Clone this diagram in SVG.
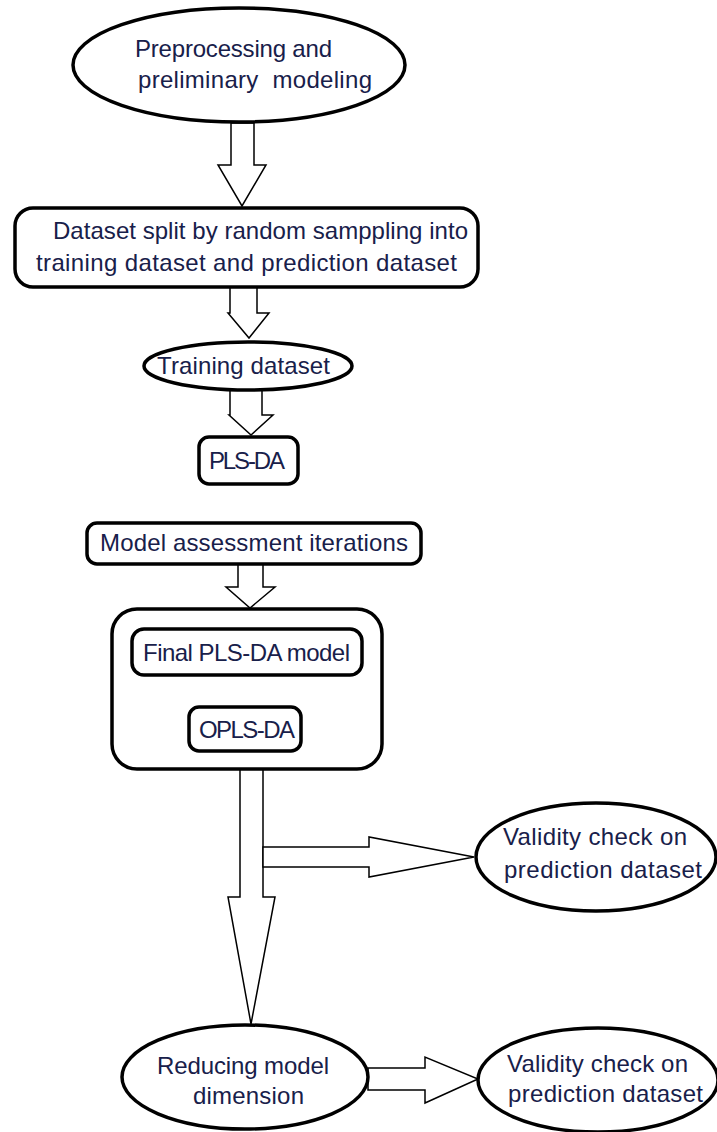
<svg xmlns="http://www.w3.org/2000/svg" width="717" height="1132" viewBox="0 0 717 1132">
<style>
.n{fill:#fff;stroke:#000;stroke-width:3.5}
.a{fill:#fff;stroke:#000;stroke-width:1.5;stroke-linejoin:miter}
.t{font-family:"Liberation Sans",Arial,sans-serif;font-size:24px;fill:#18204a}
</style>
<rect width="717" height="1132" fill="#fff"/>
<g id="connectors">
<polygon class="a" points="231,123 231,165 218,165 242,206 266,165 254,165 254,123"/>
<polygon class="a" points="230,287 230,313 228,313 249,338 269,313 257,313 257,287"/>
<polygon class="a" points="230,390 230,415 229,415 251,435 273,415 262,415 262,390"/>
<polygon class="a" points="238,564 238,587 226,587 250,608 275,587 263,587 263,564"/>
<polygon class="a" points="240,769 240,897 228,897 251,1024 275,897 263,897 263,769"/>
<polygon class="a" points="263,847 369,847 369,837 474,857 369,877 369,867 263,867"/>
<polygon class="a" points="368,1068 425,1068 425,1057 478,1079 425,1103 425,1090 368,1090"/>
</g>
<g id="preprocessing">
<ellipse class="n" cx="239" cy="65" rx="166" ry="57"/>
<text class="t" x="135" y="57" textLength="197">Preprocessing and</text>
<text class="t" x="138" y="88" textLength="234" xml:space="preserve">preliminary  modeling</text>
</g>
<g id="split">
<rect class="n" x="15" y="208" width="463" height="79" rx="18"/>
<text class="t" x="53" y="239" textLength="415">Dataset split by random samppling into</text>
<text class="t" x="36" y="271" textLength="421">training dataset and prediction dataset</text>
</g>
<g id="training">
<ellipse class="n" cx="248" cy="366" rx="104" ry="24"/>
<text class="t" x="157" y="374" textLength="173">Training dataset</text>
</g>
<g id="plsda">
<rect class="n" x="199" y="437" width="99" height="47" rx="10"/>
<text class="t" x="209" y="469" textLength="76">PLS-DA</text>
</g>
<g id="assessment">
<rect class="n" x="87" y="523" width="334" height="41" rx="10"/>
<text class="t" x="100" y="551" textLength="308">Model assessment iterations</text>
</g>
<g id="final-group">
<rect class="n" x="112" y="609" width="270" height="160" rx="25"/>
</g>
<g id="final-plsda">
<rect class="n" x="132" y="629" width="230" height="46" rx="12"/>
<text class="t" x="143" y="661" textLength="207">Final PLS-DA model</text>
</g>
<g id="oplsda">
<rect class="n" x="189" y="707" width="112" height="44" rx="10"/>
<text class="t" x="199" y="738" textLength="96">OPLS-DA</text>
</g>
<g id="validity1">
<ellipse class="n" cx="596" cy="857" rx="120" ry="54"/>
<text class="t" x="503" y="845" textLength="184">Validity check on</text>
<text class="t" x="504" y="878" textLength="198">prediction dataset</text>
</g>
<g id="reducing">
<ellipse class="n" cx="245" cy="1077" rx="123" ry="52"/>
<text class="t" x="157" y="1074" textLength="172">Reducing model</text>
<text class="t" x="193" y="1104" textLength="111">dimension</text>
</g>
<g id="validity2">
<ellipse class="n" cx="598" cy="1080" rx="120" ry="52"/>
<text class="t" x="507" y="1072" textLength="181">Validity check on</text>
<text class="t" x="508" y="1102" textLength="195">prediction dataset</text>
</g>
</svg>
